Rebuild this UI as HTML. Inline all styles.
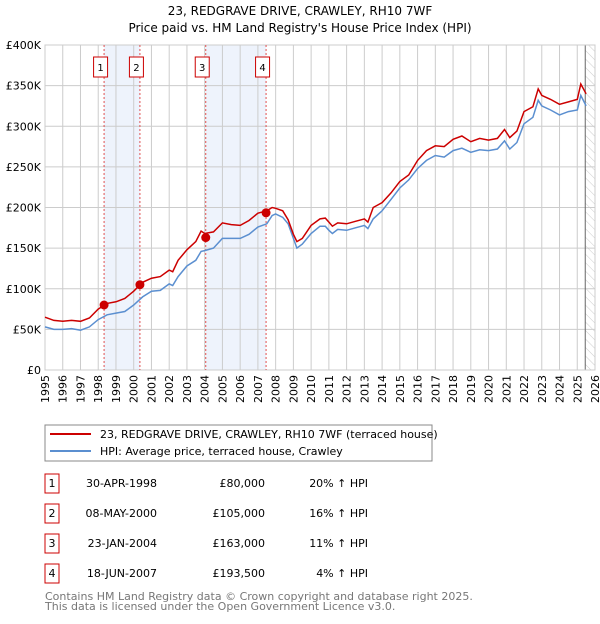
<!DOCTYPE html>
<html><head><meta charset="utf-8"><style>
body{margin:0;background:#fff;font-family:"DejaVu Sans","Liberation Sans",sans-serif;}
svg text{font-family:"DejaVu Sans","Liberation Sans",sans-serif;}
</style></head><body>
<svg id="c" width="600" height="620" xmlns="http://www.w3.org/2000/svg">
<defs><pattern id="hatch" width="6" height="6" patternUnits="userSpaceOnUse" patternTransform="rotate(-45)"><line x1="0" y1="0" x2="0" y2="6" stroke="#ccc" stroke-width="1"/></pattern></defs>
<text x="300" y="15" text-anchor="middle" font-size="12">23, REDGRAVE DRIVE, CRAWLEY, RH10 7WF</text>
<text x="300" y="32" text-anchor="middle" font-size="12">Price paid vs. HM Land Registry's House Price Index (HPI)</text>
<g id="plot"></g>
<rect x="45" y="425" width="387" height="36" fill="#fff" stroke="#888"/>
<line x1="50" y1="434" x2="91" y2="434" stroke="#cc0000" stroke-width="2"/>
<text x="100" y="438" font-size="11">23, REDGRAVE DRIVE, CRAWLEY, RH10 7WF (terraced house)</text>
<line x1="50" y1="451" x2="91" y2="451" stroke="#5b8fd0" stroke-width="2"/>
<text x="100" y="455" font-size="11">HPI: Average price, terraced house, Crawley</text>
<g id="table" font-size="11"></g>
<text x="45" y="600" font-size="11" fill="#777">Contains HM Land Registry data © Crown copyright and database right 2025.</text>
<text x="45" y="610" font-size="11" fill="#777">This data is licensed under the Open Government Licence v3.0.</text>
</svg>
<script>
const years=[1995,1995.5,1996,1996.5,1997,1997.5,1998,1998.5,1999,1999.5,2000,2000.5,2001,2001.5,2002,2002.2,2002.5,2003,2003.5,2003.8,2004,2004.5,2005,2005.5,2006,2006.5,2007,2007.5,2007.8,2008,2008.4,2008.7,2009,2009.2,2009.5,2010,2010.5,2010.8,2011,2011.2,2011.5,2012,2012.5,2013,2013.2,2013.5,2014,2014.5,2015,2015.5,2016,2016.5,2017,2017.5,2018,2018.5,2019,2019.5,2020,2020.5,2020.9,2021.2,2021.6,2022,2022.5,2022.8,2023,2023.5,2024,2024.5,2025,2025.2,2025.5];
const hpi=[53,50,50,51,49,53,62,68,70,72,80,90,97,98,106,104,115,128,135,146,147,150,162,162,162,167,176,180,190,192,188,180,162,150,155,168,177,177,172,168,173,172,175,178,174,186,196,210,224,234,248,258,264,262,270,273,268,271,270,272,282,272,280,303,311,332,325,320,314,318,320,338,325];
const price=[65,61,60,61,60,64,75,82,84,88,97,108,113,115,123,121,135,148,158,171,168,170,181,179,178,184,193,196,200,199,196,185,167,158,162,178,186,187,182,177,181,180,183,186,182,200,206,218,232,240,258,270,276,275,284,288,281,285,283,285,296,286,294,318,324,346,338,333,327,330,333,352,340];
const saleYears=[1998.33,2000.35,2004.06,2007.46];
const salePrices=[80,105,163,193.5];
const saleLabels=["1","2","3","4"];
const saleDates=["30-APR-1998","08-MAY-2000","23-JAN-2004","18-JUN-2007"];
const salePriceText=["£80,000","£105,000","£163,000","£193,500"];
const saleHpiText=["20% ↑ HPI","16% ↑ HPI","11% ↑ HPI","4% ↑ HPI"];
const yTicks=[0,50,100,150,200,250,300,350,400];
const yTickLabels=["£0","£50K","£100K","£150K","£200K","£250K","£300K","£350K","£400K"];
const xTicks=[1995,1996,1997,1998,1999,2000,2001,2002,2003,2004,2005,2006,2007,2008,2009,2010,2011,2012,2013,2014,2015,2016,2017,2018,2019,2020,2021,2022,2023,2024,2025,2026];
const NS="http://www.w3.org/2000/svg";
const L=45,R=595,T=45,B=370;
const x=v=>L+(v-1995)/31*(R-L);
const y=v=>B-v/400*(B-T);
const g=document.getElementById('plot');
function mk(tag,attrs,parent){const e=document.createElementNS(NS,tag);for(const k in attrs)e.setAttribute(k,attrs[k]);(parent||g).appendChild(e);return e;}
for(const [a,b] of [[0,1],[2,3]]){
 const r=mk('rect',{x:x(saleYears[a]),y:T,width:x(saleYears[b])-x(saleYears[a]),height:B-T,fill:'#eef3fc'});
 
 
}
const hx=x(2025.45);
const hr=mk('rect',{x:hx,y:T,width:R-hx,height:B-T,fill:'url(#hatch)'});


yTicks.forEach((v,i)=>{
 const l=mk('line',{x1:L,x2:R,y1:y(v),y2:y(v),stroke:'#ccc'});
 
 
 const t=mk('text',{x:L-4,y:y(v)+4,'text-anchor':'end','font-size':'11'});
 t.textContent=yTickLabels[i];
 
 
});
xTicks.forEach(v=>{
 const l=mk('line',{x1:x(v),x2:x(v),y1:T,y2:B,stroke:'#ccc'});
 
 
 const t=mk('text',{transform:`translate(${x(v)+4},${B+5}) rotate(-90)`,'text-anchor':'end','font-size':'11'});
 t.textContent=v;
 
 
});
const vl=mk('line',{x1:hx,x2:hx,y1:T,y2:B,stroke:'#666'});


const fr=mk('rect',{x:L,y:T,width:R-L,height:B-T,fill:'none',stroke:'#ccc'});


saleYears.forEach((s,i)=>{
 const l=mk('line',{x1:x(s),x2:x(s),y1:T,y2:B,stroke:'#e05050','stroke-dasharray':'2,2'});
 
 
 const bx=mk('rect',{x:x(s)-10.5,y:57,width:14,height:20,fill:'#fff',stroke:'#cc0000'});
 
 
 const t=mk('text',{x:x(s)-3.5,y:71,'text-anchor':'middle','font-size':'10'});
 t.textContent=saleLabels[i];
 
 
});
function path(arr,col,name){
 const d=arr.map((v,i)=>(i?'L':'M')+x(years[i]).toFixed(1)+','+y(v).toFixed(1)).join('');
 const p=mk('path',{d:d,fill:'none',stroke:col,'stroke-width':'1.5'});
 
 
}
path(hpi,'#5b8fd0','hpi-line');
path(price,'#cc0000','price-line');
saleYears.forEach((s,i)=>{
 const c=mk('circle',{cx:x(s),cy:y(salePrices[i]),r:4.5,fill:'#cc0000'});
 
 
});
const tb=document.getElementById('table');
saleYears.forEach((s,i)=>{
 const cy=483+i*30;
 const r=mk('rect',{x:45,y:cy-9,width:14,height:19,fill:'#fff',stroke:'#cc0000'},tb);
 
 
 const cells=[[52,'middle',saleLabels[i],'table-row-number'],[157,'end',saleDates[i],'table-date'],[265,'end',salePriceText[i],'table-price'],[368,'end',saleHpiText[i],'table-hpi-change']];
 cells.forEach(c=>{
  const t=mk('text',{x:c[0],y:cy+4,'text-anchor':c[1]},tb);
  t.textContent=c[2];
  
  
 });
});
</script>
</body></html>
